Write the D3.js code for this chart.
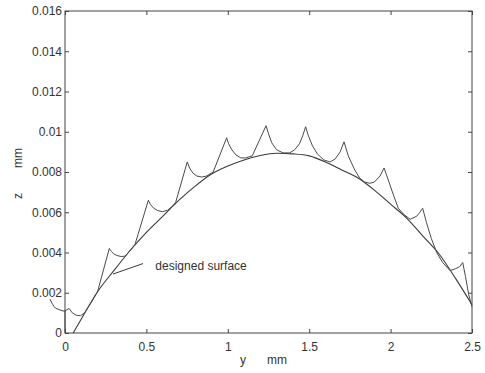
<!DOCTYPE html>
<html>
<head>
<meta charset="utf-8">
<script src="https://cdn.jsdelivr.net/npm/d3@7"></script>
<style>
  body { margin: 0; background: #fff; }
  text { font-family: "Liberation Sans", Arial, sans-serif; fill: #333; }
</style>
</head>
<body>
<svg id="chart"></svg>
<script>
// designed surface
let designY = [0.05, 0.1, 0.2, 0.3, 0.4, 0.5, 0.6, 0.7, 0.8, 0.9, 1.0, 1.1, 1.2, 1.3, 1.4, 1.5, 1.6, 1.7, 1.8, 1.9, 2.0, 2.1, 2.2, 2.3, 2.4, 2.5];
let designZ = [0, 0.0007, 0.00205, 0.0031, 0.0041, 0.005, 0.0058, 0.0066, 0.0073, 0.0079, 0.0083, 0.0086, 0.00882, 0.00893, 0.0089, 0.0088, 0.0085, 0.0081, 0.0077, 0.0071, 0.0064, 0.0057, 0.0048, 0.0039, 0.0027, 0.0014];

// machined (scalloped) profile
let machY = [0, 0, 0.025, 0.045, 0.07, 0.095, 0.12, 0.16, 0.2,
  0.272, 0.285, 0.3, 0.32, 0.345, 0.37, 0.4, 0.43,
  0.512, 0.525, 0.545, 0.57, 0.6, 0.63, 0.66, 0.68,
  0.751, 0.765, 0.785, 0.81, 0.84, 0.87, 0.91,
  0.993, 1.005, 1.025, 1.05, 1.08, 1.11, 1.15,
  1.235, 1.25, 1.27, 1.3, 1.34, 1.38, 1.41, 1.44, 1.46,
  1.478, 1.495, 1.52, 1.55, 1.59, 1.628, 1.66, 1.69,
  1.714, 1.74, 1.78, 1.81, 1.84, 1.873, 1.9, 1.935,
  1.96, 1.99, 2.02, 2.047, 2.08, 2.12, 2.16, 2.18,
  2.197, 2.22, 2.25, 2.283, 2.32, 2.365, 2.4, 2.425,
  2.443, 2.46, 2.48, 2.5];
let machZ = [0, 0.0011, 0.00122, 0.001, 0.00088, 0.00086, 0.001, 0.0015, 0.00205,
  0.0042, 0.00405, 0.00393, 0.00385, 0.0038, 0.00382, 0.0041, 0.0044,
  0.0066, 0.00638, 0.0062, 0.00608, 0.00603, 0.0061, 0.0063, 0.0065,
  0.0085, 0.0082, 0.00795, 0.0078, 0.00775, 0.0078, 0.008,
  0.0097, 0.0094, 0.0091, 0.00885, 0.0087, 0.0087, 0.0088,
  0.0103, 0.0099, 0.00945, 0.0091, 0.00895, 0.00895, 0.0091, 0.0094, 0.0098,
  0.01025, 0.0098, 0.0093, 0.0089, 0.0086, 0.0085, 0.00865, 0.009,
  0.0095, 0.0088, 0.0081, 0.0077, 0.0075, 0.00744, 0.0075, 0.0078,
  0.0082, 0.0075, 0.0068, 0.0062, 0.0059, 0.00565, 0.0058, 0.006,
  0.0062, 0.0055, 0.0047, 0.004, 0.0035, 0.0031, 0.0032, 0.0033,
  0.0035, 0.0028, 0.0019, 0.0013];

let xTicks = [0, 0.5, 1, 1.5, 2, 2.5];
let zTicks = [0, 0.002, 0.004, 0.006, 0.008, 0.01, 0.012, 0.014, 0.016];

// annotation leaders (data units)
let labelLeaderY = [0.295, 0.479];
let labelLeaderZ = [0.00293, 0.00345];
let squiggleY = [-0.092, -0.075, -0.06, -0.04, -0.012, 0];
let squiggleZ = [0.00168, 0.0014, 0.00122, 0.00118, 0.00108, 0.0011];

let width = 485;
let height = 373;
let margin = { top: 11, right: 13, bottom: 40, left: 65 };
let w = width - margin.left - margin.right;
let h = height - margin.top - margin.bottom;

let svg = d3.select('#chart').attr('width', width).attr('height', height);
let g = svg.append('g').attr('transform', `translate(${margin.left},${margin.top})`);

let x = d3.scaleLinear().domain([0, 2.5]).range([0, w]);
let y = d3.scaleLinear().domain([0, 0.016]).range([h, 0]);

let fmt = (d) => String(+d.toFixed(4));
let axisColor = '#444';

let styleAxis = (sel) => {
  sel.select('.domain').remove();
  sel.selectAll('.tick line').attr('stroke', axisColor);
  sel.selectAll('.tick text').style('font-size', '12px').attr('fill', '#333');
};

g.append('g').attr('transform', `translate(0,${h})`)
  .call(d3.axisBottom(x).tickValues(xTicks).tickFormat(fmt).tickSize(-4).tickPadding(9))
  .call(styleAxis);
g.append('g')
  .call(d3.axisTop(x).tickValues(xTicks).tickFormat('').tickSize(-4))
  .call(styleAxis);
g.append('g')
  .call(d3.axisLeft(y).tickValues(zTicks).tickFormat(fmt).tickSize(-4).tickPadding(3))
  .call(styleAxis);
g.append('g').attr('transform', `translate(${w},0)`)
  .call(d3.axisRight(y).tickValues(zTicks).tickFormat('').tickSize(-4))
  .call(styleAxis);

g.append('rect')
  .attr('width', w).attr('height', h)
  .attr('fill', 'none').attr('stroke', axisColor).attr('stroke-width', 1);

let line = d3.line().x((d) => x(d[0])).y((d) => y(d[1]));

g.append('path')
  .datum(d3.zip(designY, designZ))
  .attr('fill', 'none').attr('stroke', '#3a3a3a').attr('stroke-width', 1.1)
  .attr('d', line.curve(d3.curveMonotoneX));

g.append('path')
  .attr('fill', 'none').attr('stroke', '#4a4a4a').attr('stroke-width', 1)
  .attr('d', d3.line().x((d) => x(d[0])).y((d) => y(d[1]))(d3.zip(machY, machZ)));

g.append('path')
  .attr('fill', 'none').attr('stroke', '#3a3a3a').attr('stroke-width', 1)
  .attr('d', d3.line().x((d) => x(d[0])).y((d) => y(d[1]))(d3.zip(labelLeaderY, labelLeaderZ)));

g.append('path')
  .attr('fill', 'none').attr('stroke', '#3a3a3a').attr('stroke-width', 1)
  .attr('d', d3.line().x((d) => x(d[0])).y((d) => y(d[1])).curve(d3.curveBasis)(d3.zip(squiggleY, squiggleZ)));

g.append('text')
  .attr('x', x(0.555)).attr('y', y(0.00333) + 4)
  .style('font-size', '12px')
  .text('designed surface');

// axis titles
svg.append('text').attr('x', 243).attr('y', 364).attr('text-anchor', 'middle')
  .style('font-size', '12px').text('y');
svg.append('text').attr('x', 277).attr('y', 364).attr('text-anchor', 'middle')
  .style('font-size', '12px').text('mm');
svg.append('text').attr('transform', 'translate(22,196) rotate(-90)').attr('text-anchor', 'middle')
  .style('font-size', '12px').text('z');
svg.append('text').attr('transform', 'translate(22,158) rotate(-90)').attr('text-anchor', 'middle')
  .style('font-size', '12px').text('mm');
</script>
</body>
</html>
